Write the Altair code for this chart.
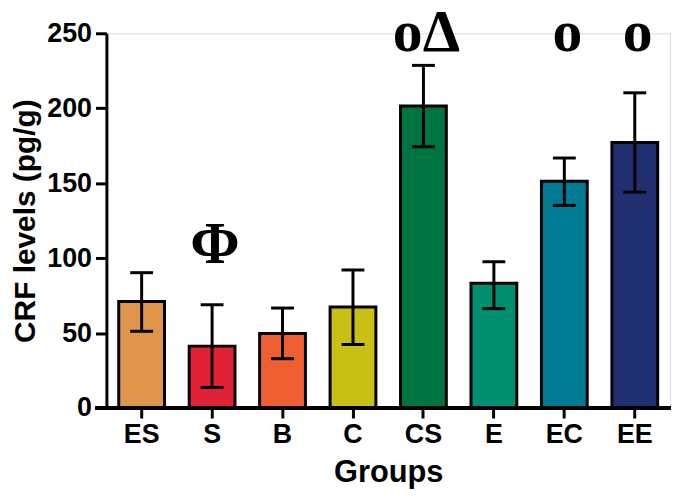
import altair as alt
import pandas as pd

groups = ["ES", "S", "B", "C", "CS", "E", "EC", "EE"]
means = [71.1, 41.3, 49.7, 67.4, 201.5, 83.3, 151.3, 177.1]
upper = [90.3, 68.9, 66.7, 92.1, 228.6, 97.6, 166.8, 210.3]
lower = [51.2, 13.7, 32.9, 42.4, 174.3, 66.3, 135.2, 144.0]
colors = ["#DF954B", "#E02237", "#F05F32", "#C8C014", "#007440", "#009070", "#007A92", "#1F2F70"]

mark_groups = ["S", "CS", "EC", "EE"]
mark_texts = ["Φ", "oΔ", "o", "o"]
mark_y = [97, 238, 238, 238]

y_ticks = [0, 50, 100, 150, 200, 250]

df = pd.DataFrame({"group": groups, "mean": means, "upper": upper, "lower": lower})
ann = pd.DataFrame({"group": mark_groups, "txt": mark_texts, "y": mark_y})

W, H = 567, 377
SANS = "Liberation Sans"

xenc = alt.X(
    "group:N",
    sort=groups,
    scale=alt.Scale(domain=groups, paddingInner=0.35, paddingOuter=0.175),
    axis=alt.Axis(
        title="Groups", labelAngle=0, domain=False, ticks=True, tickSize=10, tickWidth=3,
        tickColor="black", labelFont=SANS, labelFontSize=27, labelFontWeight="bold",
        labelColor="black", labelPadding=4, titleFont=SANS, titleFontSize=31,
        titleFontWeight="bold", titleColor="black", titlePadding=10,
    ),
)
yscale = alt.Scale(domain=[0, 250], nice=False)

bars = alt.Chart(df).mark_bar(stroke="black", strokeWidth=3).encode(
    x=xenc,
    y=alt.Y(
        "mean:Q", scale=yscale,
        axis=alt.Axis(
            title="CRF levels (pg/g)", values=y_ticks, grid=False, domainColor="black",
            domainWidth=3, tickColor="black", tickWidth=3, tickSize=11, labelFont=SANS,
            labelFontSize=27, labelFontWeight="bold", labelColor="black", labelPadding=4,
            titleFont=SANS, titleFontSize=30, titleFontWeight="bold", titleColor="black",
            titlePadding=6,
        ),
    ),
    color=alt.Color("group:N", scale=alt.Scale(domain=groups, range=colors), legend=None),
)

rules = alt.Chart(df).mark_rule(color="black", strokeWidth=3).encode(
    x=alt.X("group:N", sort=groups),
    y=alt.Y("lower:Q", scale=yscale),
    y2="upper:Q",
)
cap_hi = alt.Chart(df).mark_tick(color="black", thickness=3, size=23, opacity=1).encode(
    x=alt.X("group:N", sort=groups), y=alt.Y("upper:Q", scale=yscale)
)
cap_lo = alt.Chart(df).mark_tick(color="black", thickness=3, size=23, opacity=1).encode(
    x=alt.X("group:N", sort=groups), y=alt.Y("lower:Q", scale=yscale)
)

texts = alt.Chart(ann).mark_text(
    font="Liberation Serif", fontWeight="bold", fontSize=60, baseline="alphabetic",
    align="center", color="black", dx=3,
).encode(
    x=alt.X("group:N", sort=groups),
    y=alt.Y("y:Q", scale=yscale),
    text="txt:N",
)

xline = alt.Chart(df).mark_rule(color="black", strokeWidth=3).encode(
    x=alt.value(-11), x2=alt.value(W + 1), y=alt.value(H)
)

chart = alt.layer(bars, rules, cap_hi, cap_lo, texts, xline).properties(
    width=W, height=H,
    autosize=alt.AutoSizeParams(type="none"),
    padding={"left": 99, "top": 24, "right": 2, "bottom": 80},
).configure_view(stroke=None).configure(background="white")

chart.save("out.html", embed_options={"renderer": "svg", "actions": False})
